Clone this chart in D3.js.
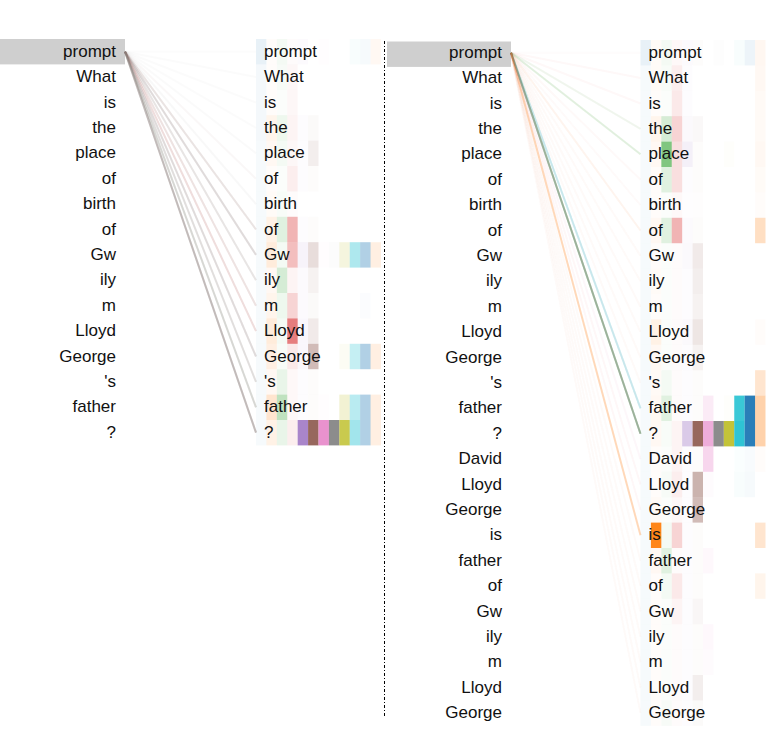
<!DOCTYPE html>
<html>
<head>
<meta charset="utf-8">
<script src="https://cdn.jsdelivr.net/npm/d3@7"></script>
<style>
  body { margin: 0; background: #fff; }
  text { font-family: "Liberation Sans", Arial, sans-serif; font-size: 17px; fill: #111; }
</style>
</head>
<body>
<script>
/* global d3 */

// tokens of the two attention views
const tokensA = ['prompt', 'What', 'is', 'the', 'place', 'of', 'birth', 'of',
  'Gw', 'ily', 'm', 'Lloyd', 'George', "'s", 'father', '?'];
const tokensB = tokensA.concat(['David', 'Lloyd', 'George', 'is', 'father', 'of',
  'Gw', 'ily', 'm', 'Lloyd', 'George']);

const heads = d3.range(12);

// attention weights per right-hand token (rows) and head (columns)
const boxesA = [
  [0.10, 0.02, 0.05, 0.02, 0.03, 0, 0.01, 0, 0, 0.03, 0.04, 0.05],
  [0.05, 0.02, 0.04, 0.04, 0, 0, 0, 0, 0, 0, 0, 0],
  [0.05, 0.02, 0.02, 0.04, 0, 0, 0, 0, 0, 0, 0, 0],
  [0.05, 0.08, 0.08, 0.05, 0.02, 0.03, 0, 0, 0, 0, 0, 0],
  [0.04, 0.05, 0.05, 0.04, 0.02, 0.10, 0, 0, 0, 0, 0, 0],
  [0.04, 0.02, 0.02, 0.08, 0.02, 0.02, 0, 0, 0, 0, 0, 0],
  [0.04, 0.03, 0.03, 0.02, 0, 0, 0, 0, 0, 0, 0, 0],
  [0.04, 0.10, 0.15, 0.35, 0.02, 0.02, 0, 0, 0, 0, 0, 0],
  [0.04, 0.15, 0.05, 0.30, 0.08, 0.20, 0.01, 0.02, 0.15, 0.35, 0.35, 0.12],
  [0.04, 0.05, 0.20, 0.05, 0.03, 0.08, 0, 0, 0, 0, 0, 0],
  [0.04, 0.08, 0.08, 0.20, 0.03, 0.03, 0, 0, 0, 0, 0.02, 0],
  [0.04, 0.15, 0.05, 0.60, 0.05, 0.12, 0, 0, 0, 0, 0, 0],
  [0.04, 0.12, 0.03, 0.10, 0.05, 0.40, 0, 0, 0.05, 0.25, 0.35, 0.12],
  [0.04, 0.05, 0.10, 0.03, 0.02, 0.02, 0, 0, 0, 0, 0, 0],
  [0.04, 0.20, 0.30, 0.03, 0.02, 0.02, 0.01, 0, 0.20, 0.30, 0.35, 0.12],
  [0.04, 0.10, 0.10, 0.08, 0.80, 0.90, 0.80, 0.90, 0.80, 0.40, 0.35, 0.12],
];

const boxesB = [
  [0.10, 0.03, 0.05, 0.03, 0.03, 0.02, 0, 0.01, 0, 0.03, 0.08, 0.06],
  [0.04, 0.03, 0.03, 0.08, 0.02, 0, 0, 0, 0, 0, 0, 0.05],
  [0.04, 0.02, 0.02, 0.10, 0.02, 0, 0, 0, 0, 0, 0, 0.04],
  [0.04, 0.08, 0.20, 0.20, 0.04, 0.04, 0, 0, 0, 0, 0, 0.04],
  [0.04, 0.05, 0.60, 0.15, 0.10, 0.02, 0, 0, 0.02, 0, 0, 0.05],
  [0.04, 0.02, 0.15, 0.15, 0.02, 0.02, 0, 0, 0, 0, 0, 0.03],
  [0.04, 0.02, 0.02, 0.03, 0.01, 0.01, 0, 0, 0, 0, 0, 0.02],
  [0.04, 0.05, 0.15, 0.35, 0.03, 0.02, 0, 0, 0, 0, 0, 0.25],
  [0.04, 0.02, 0.02, 0.02, 0.04, 0.12, 0, 0, 0, 0, 0, 0],
  [0.04, 0.03, 0.02, 0.02, 0.02, 0.10, 0, 0, 0, 0, 0, 0],
  [0.04, 0.02, 0.02, 0.02, 0.02, 0.08, 0, 0, 0, 0, 0, 0],
  [0.04, 0.10, 0.02, 0.02, 0.04, 0.15, 0, 0, 0, 0, 0, 0.02],
  [0.04, 0.05, 0.02, 0.02, 0.02, 0.08, 0, 0, 0, 0, 0, 0],
  [0.04, 0.04, 0.05, 0.02, 0.02, 0.02, 0, 0, 0, 0, 0, 0.20],
  [0.04, 0.05, 0.15, 0.02, 0.02, 0.02, 0.15, 0, 0.02, 0.85, 0.95, 0.35],
  [0.04, 0.05, 0.03, 0.05, 0.35, 0.90, 0.60, 0.90, 0.90, 0.90, 0.95, 0.35],
  [0.04, 0.02, 0.02, 0.05, 0.02, 0.02, 0.30, 0, 0, 0.02, 0.03, 0.02],
  [0.04, 0.02, 0.04, 0.08, 0.02, 0.45, 0.03, 0, 0, 0.03, 0.04, 0],
  [0.04, 0.04, 0.02, 0.04, 0.02, 0.40, 0, 0, 0, 0, 0, 0],
  [0.04, 0.95, 0.05, 0.20, 0.02, 0.02, 0, 0, 0, 0, 0, 0.20],
  [0.04, 0.05, 0.15, 0.02, 0.02, 0.02, 0.05, 0, 0, 0, 0, 0],
  [0.04, 0.02, 0.05, 0.10, 0.02, 0.02, 0, 0, 0, 0, 0, 0.08],
  [0.04, 0.02, 0.02, 0.05, 0.02, 0.05, 0, 0, 0, 0, 0, 0],
  [0.04, 0.02, 0.02, 0.02, 0.02, 0.02, 0.05, 0, 0, 0, 0, 0],
  [0.04, 0.02, 0.02, 0.02, 0.02, 0.02, 0.03, 0, 0, 0, 0, 0],
  [0.04, 0.02, 0.02, 0.02, 0.02, 0.10, 0, 0, 0, 0, 0, 0],
  [0.04, 0.02, 0.04, 0.02, 0.02, 0.03, 0, 0, 0, 0, 0, 0],
];

// attention lines from the selected token ("prompt") to each right-hand token
const linesA = [
  [0, 0, 0, 0, 0, 0, 0, 0.02, 0, 0, 0, 0],
  [0, 0, 0, 0, 0, 0, 0, 0.03, 0, 0, 0, 0],
  [0, 0, 0, 0, 0, 0, 0, 0.03, 0, 0, 0, 0],
  [0, 0, 0, 0, 0, 0, 0, 0.03, 0, 0, 0, 0],
  [0, 0, 0, 0, 0, 0, 0, 0.04, 0, 0, 0, 0],
  [0, 0, 0, 0.01, 0, 0, 0, 0.04, 0, 0, 0, 0],
  [0, 0, 0, 0, 0, 0, 0, 0.05, 0, 0, 0, 0],
  [0, 0, 0, 0.03, 0, 0.02, 0, 0.14, 0, 0, 0, 0],
  [0, 0, 0, 0.01, 0, 0.05, 0, 0.20, 0, 0, 0, 0],
  [0, 0, 0, 0.01, 0, 0.02, 0, 0.16, 0, 0, 0, 0],
  [0, 0, 0, 0.06, 0, 0.02, 0, 0.10, 0, 0, 0, 0],
  [0, 0, 0, 0.10, 0, 0.02, 0, 0.08, 0, 0, 0, 0],
  [0, 0, 0, 0.01, 0, 0.05, 0, 0.20, 0, 0, 0, 0],
  [0, 0, 0, 0.01, 0, 0.02, 0, 0.22, 0, 0, 0, 0],
  [0, 0, 0.04, 0.01, 0, 0.02, 0, 0.25, 0, 0, 0, 0],
  [0, 0, 0, 0.01, 0, 0.15, 0, 0.40, 0, 0, 0, 0],
];

const linesB = [
  [0, 0, 0, 0.015, 0, 0, 0, 0, 0, 0, 0, 0],
  [0, 0, 0, 0.03, 0, 0, 0, 0, 0, 0, 0, 0],
  [0, 0, 0, 0.03, 0, 0, 0, 0, 0, 0, 0, 0],
  [0, 0, 0.07, 0.01, 0, 0, 0, 0, 0, 0, 0, 0],
  [0, 0, 0.14, 0.01, 0, 0, 0, 0, 0, 0, 0, 0],
  [0, 0.01, 0, 0.02, 0, 0, 0, 0, 0, 0, 0, 0],
  [0, 0.01, 0, 0.015, 0, 0, 0, 0, 0, 0, 0, 0],
  [0, 0.06, 0, 0.015, 0, 0, 0, 0, 0, 0, 0, 0],
  [0, 0.015, 0, 0.015, 0, 0, 0, 0, 0, 0, 0, 0],
  [0, 0.015, 0, 0.015, 0, 0, 0, 0, 0, 0, 0, 0],
  [0, 0.015, 0, 0.015, 0, 0, 0, 0, 0, 0, 0, 0],
  [0, 0.015, 0, 0.015, 0, 0, 0, 0, 0, 0, 0, 0],
  [0, 0.015, 0, 0.015, 0, 0, 0, 0, 0, 0, 0, 0],
  [0, 0.015, 0, 0.015, 0, 0, 0, 0, 0, 0, 0, 0],
  [0, 0, 0, 0.01, 0, 0, 0, 0.04, 0, 0.18, 0.04, 0],
  [0, 0, 0.35, 0.01, 0, 0, 0, 0.45, 0, 0, 0, 0],
  [0, 0, 0, 0.015, 0, 0, 0.04, 0, 0, 0, 0, 0],
  [0, 0.01, 0, 0.02, 0, 0, 0.015, 0, 0, 0, 0, 0],
  [0, 0.01, 0, 0.02, 0, 0, 0.015, 0, 0, 0, 0, 0],
  [0, 0.28, 0, 0.01, 0, 0, 0, 0, 0, 0, 0, 0],
  [0, 0.015, 0, 0.015, 0, 0, 0, 0, 0, 0, 0, 0],
  [0, 0.015, 0, 0.015, 0, 0, 0, 0, 0, 0, 0, 0],
  [0, 0.015, 0, 0.015, 0, 0, 0, 0, 0, 0, 0, 0],
  [0, 0.015, 0, 0.015, 0, 0, 0, 0, 0, 0, 0, 0],
  [0, 0.015, 0, 0.015, 0, 0, 0, 0, 0, 0, 0, 0],
  [0, 0.015, 0, 0.015, 0, 0, 0, 0, 0, 0, 0, 0],
  [0, 0.015, 0, 0.015, 0, 0, 0, 0, 0, 0, 0, 0],
];

const width = 769;
const height = 747;
const rowH = 25.4;
const color = d3.scaleOrdinal().domain(heads).range(d3.schemeCategory10.concat(d3.schemeCategory10));

const svg = d3.select('body').append('svg')
  .attr('width', width)
  .attr('height', height);

function drawPanel(cfg) {
  const g = svg.append('g');
  const n = cfg.tokens.length;
  const y = d3.scaleBand()
    .domain(d3.range(n))
    .range([cfg.top, cfg.top + n * rowH]);
  const x = d3.scaleBand()
    .domain(heads)
    .range([cfg.boxX, cfg.boxX + 125]);
  const mid = i => y(i) + y.bandwidth() / 2;

  // highlight of the selected left token
  g.append('rect')
    .attr('x', cfg.hlX)
    .attr('y', y(0) + cfg.hlShift)
    .attr('width', cfg.hlW)
    .attr('height', y.bandwidth())
    .attr('fill', '#cfcfcf');

  // per-head attention boxes behind the right tokens
  const cells = [];
  cfg.boxes.forEach((row, i) => row.forEach((v, h) => {
    if (v > 0) cells.push({ i, h, v });
  }));
  g.append('g').selectAll('rect').data(cells)
    .enter().append('rect')
      .attr('x', d => x(d.h))
      .attr('y', d => y(d.i))
      .attr('width', x.bandwidth())
      .attr('height', y.bandwidth())
      .attr('fill', d => color(d.h))
      .attr('fill-opacity', d => d.v);

  // attention lines
  const links = [];
  cfg.lines.forEach((row, i) => row.forEach((v, h) => {
    if (v > 0) links.push({ i, h, v });
  }));
  g.append('g').selectAll('line').data(links)
    .enter().append('line')
      .attr('x1', cfg.hlX + cfg.hlW)
      .attr('y1', mid(0))
      .attr('x2', cfg.boxX)
      .attr('y2', d => mid(d.i))
      .attr('stroke', d => color(d.h))
      .attr('stroke-width', 2)
      .attr('stroke-opacity', d => d.v);

  g.append('g').selectAll('text').data(cfg.tokens)
    .enter().append('text')
      .attr('x', cfg.leftTextX)
      .attr('y', (d, i) => mid(i))
      .attr('dy', '0.3em')
      .attr('text-anchor', 'end')
      .text(d => d);

  g.append('g').selectAll('text').data(cfg.tokens)
    .enter().append('text')
      .attr('x', cfg.boxX + 8)
      .attr('y', (d, i) => mid(i))
      .attr('dy', '0.3em')
      .text(d => d);
}

drawPanel({
  tokens: tokensA, boxes: boxesA, lines: linesA,
  top: 39, hlShift: 0, hlX: 0, hlW: 125, leftTextX: 116, boxX: 256,
});

drawPanel({
  tokens: tokensB, boxes: boxesB, lines: linesB,
  top: 40, hlShift: 1.5, hlX: 387, hlW: 124, leftTextX: 502, boxX: 640.5,
});

svg.append('line')
  .attr('x1', 384.5).attr('x2', 384.5)
  .attr('y1', 41).attr('y2', 716)
  .attr('stroke', '#000')
  .attr('stroke-width', 1)
  .attr('stroke-dasharray', '3,2,1,2');
</script>
</body>
</html>
